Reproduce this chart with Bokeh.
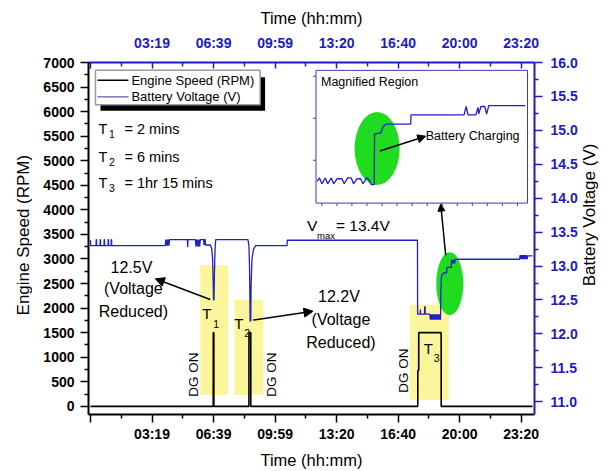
import math
from bokeh.plotting import figure
from bokeh.layouts import row
from bokeh.models import (Range1d, LinearAxis, FixedTicker, Label, Arrow, NormalHead,
                          PrintfTickFormatter)
from bokeh.embed import file_html
from bokeh.resources import INLINE

FONT = "Liberation Sans"
AXIS_BLUE = "#1c1cc0"
LINE_BLUE = "#2020c8"
GREEN = "#1fdc1f"
YELLOW = "#fbf69c"

# ---------------- data ----------------
rpm_time = [0, 399, 399.2, 401, 401.2, 515, 515.2, 521, 521.2, 1064, 1064.2, 1067, 1067.2, 1140, 1140.2, 1437]
rpm_values = [0, 0, 1500, 1500, 0, 0, 1500, 1500, 0, 0, 730, 730, 1500, 1500, 0, 0]

volt_time = [0, 0.5, 18, 18.5, 19.5, 20, 31, 31.5, 32.5, 33, 44, 44.5, 45.5, 46,
             57, 57.5, 58.5, 59, 67, 67.5, 68.5, 69,
             243, 245, 247, 249, 251, 253, 255, 257,
             315, 316, 317, 341, 343, 345, 347, 349, 351, 353, 355, 357,
             368, 369, 370, 373, 373.5, 390, 394, 397, 399, 400, 401.5, 403, 405, 407,
             512, 515, 517, 519, 521, 522, 525, 530, 537, 639, 639.5,
             1063, 1063.5, 1072, 1072.5, 1073, 1086, 1086.5, 1088, 1088.5,
             1103, 1105, 1107, 1109, 1111, 1113, 1115, 1117, 1119, 1121, 1123, 1125,
             1127, 1129, 1131, 1133, 1135, 1137, 1138,
             1139, 1141, 1145, 1148, 1158, 1158.5, 1173, 1173.5,
             1176, 1178, 1180, 1182, 1184, 1186,
             1395, 1397, 1399, 1401, 1403, 1405, 1407, 1409, 1411, 1413, 1415, 1417,
             1419, 1421, 1437]
volt_values = [13.38, 13.30, 13.30, 13.39, 13.39, 13.30, 13.30, 13.39, 13.39, 13.30, 13.30, 13.39, 13.39, 13.30,
               13.30, 13.39, 13.39, 13.30, 13.30, 13.39, 13.39, 13.30,
               13.30, 13.39, 13.30, 13.39, 13.30, 13.39, 13.30, 13.39,
               13.39, 13.28, 13.39, 13.39, 13.29, 13.39, 13.29, 13.39, 13.29, 13.39, 13.29, 13.39,
               13.39, 13.31, 13.39, 13.39, 13.31, 13.31, 13.26, 13.10, 12.75, 12.50, 12.50, 12.90, 13.25, 13.39,
               13.39, 13.30, 13.00, 12.19, 12.19, 12.70, 13.10, 13.25, 13.30, 13.30, 13.38,
               13.38, 12.29, 12.29, 12.36, 12.29, 12.29, 12.40, 12.40, 12.29,
               12.29, 12.21, 12.29, 12.21, 12.29, 12.21, 12.29, 12.21, 12.29, 12.21, 12.29, 12.21,
               12.29, 12.21, 12.29, 12.21, 12.29, 12.21, 12.22,
               12.60, 12.85, 12.88, 12.90, 12.90, 12.98, 12.98, 13.09,
               13.04, 13.09, 13.04, 13.09, 13.04, 13.10,
               13.10, 13.16, 13.10, 13.16, 13.10, 13.16, 13.10, 13.16, 13.10, 13.16, 13.10, 13.16,
               13.10, 13.15, 13.15]

# magnified region (charging after the third DG run)
inset_time = [1110.5, 1111.5, 1112.5, 1114, 1115, 1116.5, 1117.5, 1119, 1121, 1122, 1123.5, 1125,
              1126, 1127.5, 1129, 1130, 1131.5, 1132.5, 1133.5, 1134.8, 1134.9, 1137.7, 1138.5,
              1139.8, 1150.3, 1150.4, 1173, 1173.9, 1174.7, 1178, 1178.9, 1179.2, 1180.2, 1181.8,
              1182.6, 1183.5, 1199]
inset_volt = [12.25, 12.29, 12.22, 12.29, 12.22, 12.29, 12.22, 12.28, 12.28, 12.22, 12.29, 12.29,
              12.22, 12.28, 12.28, 12.22, 12.29, 12.27, 12.21, 12.21, 12.81, 12.83, 12.90,
              12.93, 12.93, 13.04, 13.04, 13.14, 13.04, 13.04, 13.13, 13.05, 13.14, 13.14,
              13.05, 13.15, 13.15]

# DG ON periods (shaded)
dg_start = [357, 468, 1038]
dg_end = [448, 562, 1165]
dg_top = [2870, 2170, 2070]
dg_bottom = [230, 230, 130]

tick_minutes = [0, 200, 400, 600, 800, 1000, 1200, 1400]
tick_labels = ["", "03:19", "06:39", "09:59", "13:20", "16:40", "20:00", "23:20"]
rpm_ticks = [0, 500, 1000, 1500, 2000, 2500, 3000, 3500, 4000, 4500, 5000, 5500, 6000, 6500, 7000]
volt_ticks = [11.0, 11.5, 12.0, 12.5, 13.0, 13.5, 14.0, 14.5, 15.0, 15.5, 16.0]

series_names = ["Engine Speed (RPM)", "Battery Voltage (V)"]

# highlight marks
charging_time = 1168
charging_volt = 12.74
inset_charging_time = 1136
inset_charging_volt = 12.64

# ---------------- layout constants ----------------
W, H = 608, 471
LW, RW = 32, 28                            # side strips holding the y titles
FL, FR, FT, FB = 88, 535, 62, 420          # frame edges in page pixels
XR = (-6.5, 1443.5)
YR = (-166, 7000)
VR = (10.812, 16.0)
IX = (1110, 1200)                          # inset data window
IY = (11.99, 13.57)
IPX = (316, 528)                           # inset box, page pixels
IPY = (205, 70)

def X(px):
    return XR[0] + (px - FL) / (FR - FL) * (XR[1] - XR[0])

def Y(py):
    return YR[1] - (py - FT) / (FB - FT) * (YR[1] - YR[0])

kx = (IX[1] - IX[0]) / (IPX[1] - IPX[0])
ky = (IY[1] - IY[0]) / (IPY[0] - IPY[1])
ix_range = Range1d(IX[0] - (IPX[0] - FL) * kx, IX[1] + (FR - IPX[1]) * kx)
iy_range = Range1d(IY[0] - (FB - IPY[0]) * ky, IY[1] + (IPY[1] - FT) * ky)

PW = W - LW - RW
p = figure(width=PW, height=H, x_range=Range1d(*XR), y_range=Range1d(*YR),
           output_backend="svg", toolbar_location=None,
           x_axis_location=None, y_axis_location=None,
           min_border_left=FL - LW, min_border_right=W - RW - FR,
           min_border_top=FT, min_border_bottom=H - FB)
p.extra_y_ranges = {"volt": Range1d(*VR), "iy": iy_range}
p.extra_x_ranges = {"ix": ix_range}
p.grid.visible = False
p.outline_line_color = None
p.background_fill_color = "white"
p.border_fill_color = "white"

# ---------------- axes ----------------
def style(ax, color, title_size="17px"):
    ax.axis_line_color = color
    ax.axis_line_width = 2
    ax.major_tick_line_color = color
    ax.minor_tick_line_color = color
    ax.major_tick_line_width = 1.5
    ax.minor_tick_line_width = 1.5
    ax.major_label_text_color = color
    ax.major_label_text_font = FONT
    ax.major_label_text_font_style = "bold"
    ax.major_label_text_font_size = "14px"
    ax.axis_label_text_font = FONT
    ax.axis_label_text_font_style = "normal"
    ax.axis_label_text_font_size = title_size
    ax.axis_label_text_color = "black"

minor_x = [(a + b) / 2 for a, b in zip(tick_minutes[:-1], tick_minutes[1:])]
overrides = {t: l for t, l in zip(tick_minutes, tick_labels)}

bottom = LinearAxis(axis_label="Time (hh:mm)",
                    ticker=FixedTicker(ticks=tick_minutes, minor_ticks=minor_x))
style(bottom, "black", "16.5px")
bottom.major_label_overrides = overrides
bottom.major_tick_out, bottom.major_tick_in = 8, 0
bottom.minor_tick_out, bottom.minor_tick_in = 4, 0
bottom.major_label_standoff = 3
bottom.axis_label_standoff = 6
p.add_layout(bottom, "below")

top = LinearAxis(axis_label="Time (hh:mm)",
                 ticker=FixedTicker(ticks=tick_minutes, minor_ticks=minor_x))
style(top, AXIS_BLUE, "16.5px")
top.major_label_overrides = overrides
top.major_tick_out, top.major_tick_in = 0, 6
top.minor_tick_out, top.minor_tick_in = 0, 4
top.major_label_standoff = 12
top.axis_label_standoff = 5
p.add_layout(top, "above")

minor_rpm = [(a + b) / 2 for a, b in zip(rpm_ticks[:-1], rpm_ticks[1:])]
left = LinearAxis(ticker=FixedTicker(ticks=rpm_ticks, minor_ticks=minor_rpm))
style(left, "black")
left.major_tick_out, left.major_tick_in = 8, 0
left.minor_tick_out, left.minor_tick_in = 4, 0
left.major_label_standoff = 6
p.add_layout(left, "left")

minor_v = [(a + b) / 2 for a, b in zip(volt_ticks[:-1], volt_ticks[1:])]
right = LinearAxis(y_range_name="volt",
                   ticker=FixedTicker(ticks=volt_ticks, minor_ticks=minor_v),
                   formatter=PrintfTickFormatter(format="%.1f"))
style(right, AXIS_BLUE)
right.major_tick_out, right.major_tick_in = 8, 0
right.minor_tick_out, right.minor_tick_in = 4, 0
right.major_label_standoff = 8
p.add_layout(right, "right")

# ---------------- marks ----------------
p.quad(left=dg_start, right=dg_end, top=dg_top, bottom=dg_bottom,
       fill_color=YELLOW, line_color=None)

p.ellipse(x=[charging_time], y=[charging_volt], width=27, height=63,
          width_units="screen", height_units="screen",
          fill_color=GREEN, line_color=None, y_range_name="volt")

r_rpm = p.line(rpm_time, rpm_values, line_color="black", line_width=1.6)
r_volt = p.line(volt_time, volt_values, line_color=LINE_BLUE, line_width=1.3,
                y_range_name="volt")

# inset
p.quad(left=[IX[0]], right=[IX[1]], bottom=[IY[0]], top=[IY[1]],
       fill_color="white", line_color="#3a3ac0", line_width=1,
       x_range_name="ix", y_range_name="iy")
inset_xticks = [IX[0] + 2.5 + 6.4 * i for i in range(14)]
p.segment(x0=inset_xticks, x1=inset_xticks, y0=[IY[0]] * 14, y1=[IY[0] - 3 * ky] * 14,
          line_color="#3a3ac0", line_width=1, x_range_name="ix", y_range_name="iy")
inset_yticks = [12.5, 13.0, 13.5]
p.segment(x0=[IX[0]] * 3, x1=[IX[0] - 3 * kx] * 3, y0=inset_yticks, y1=inset_yticks,
          line_color="#3a3ac0", line_width=1, x_range_name="ix", y_range_name="iy")
p.ellipse(x=[inset_charging_time], y=[inset_charging_volt], width=45, height=73,
          width_units="screen", height_units="screen",
          fill_color=GREEN, line_color=None, x_range_name="ix", y_range_name="iy")
p.line(inset_time, inset_volt, line_color=LINE_BLUE, line_width=1.3,
       x_range_name="ix", y_range_name="iy")

# legend (box with drop shadow)
p.quad(left=[X(100)], right=[X(265)], top=[Y(77)], bottom=[Y(111)],
       fill_color="black", line_color=None)
p.quad(left=[X(95)], right=[X(260)], top=[Y(70)], bottom=[Y(105)],
       fill_color="white", line_color="#9a9a9a", line_width=1.5)
p.segment(x0=[X(97)], x1=[X(128)], y0=[Y(80)], y1=[Y(80)], line_color="black", line_width=1.6)
p.segment(x0=[X(97)], x1=[X(128)], y0=[Y(97)], y1=[Y(97)], line_color="#5a5ab4", line_width=1.3)

# ---------------- texts ----------------
def txt(text, px, py, size, align="left", angle=0, color="black"):
    p.add_layout(Label(x=X(px), y=Y(py), text=text, text_font=FONT,
                       text_font_size=f"{size}px", text_align=align,
                       text_baseline="middle", angle=angle, text_color=color))

txt(series_names[0], 131, 80, 13)
txt(series_names[1], 131, 97, 13)

for i, (py, rest) in enumerate([(130, "= 2 mins"), (158, "= 6 mins"), (185, "= 1hr 15 mins")]):
    txt("T", 98, py, 14.5)
    txt(str(i + 1), 108.5, py + 5, 10.5)
    txt(rest, 124, py, 14.5)

txt("Magnified Region", 321, 82, 12.5)
txt("Battery Charging", 426, 137, 12.5)

txt("12.5V", 131, 270, 16, "center")
txt("(Voltage", 133, 292, 16, "center")
txt("Reduced)", 133, 315, 16, "center")
txt("12.2V", 339, 300, 16, "center")
txt("(Voltage", 341, 323, 16, "center")
txt("Reduced)", 341, 347, 16, "center")

txt("V", 307, 228, 15.5)
txt("max", 317, 238, 9.5)
txt("= 13.4V", 336, 228, 15.5)

txt("T", 202, 317, 15)
txt("1", 213, 328, 10.5)
txt("T", 234, 327, 15)
txt("2", 244, 337, 10.5)
txt("T", 424, 353, 15)
txt("3", 434, 363, 10.5)

txt("DG ON", 193, 402, 13.5, angle=math.pi / 2)
txt("DG ON", 271, 402, 13.5, angle=math.pi / 2)
txt("DG ON", 404, 398, 13.5, angle=math.pi / 2)

def arrow(x0, y0, x1, y1, size=9):
    p.add_layout(Arrow(end=NormalHead(size=size, fill_color="black", line_color="black"),
                       x_start=X(x0), y_start=Y(y0), x_end=X(x1), y_end=Y(y1),
                       line_color="black", line_width=1.5))

arrow(210, 303, 155, 282)
arrow(253, 324, 313, 315)
arrow(380, 152, 426, 137, 8)
arrow(446, 258, 441, 206, 7)

# ---------------- side strips with the vertical axis titles ----------------
def strip(width, text, cx, cy):
    s = figure(width=width, height=H, x_range=Range1d(0, width), y_range=Range1d(0, H),
               output_backend="svg", toolbar_location=None,
               x_axis_location=None, y_axis_location=None, min_border=0)
    s.grid.visible = False
    s.outline_line_color = None
    s.border_fill_color = "white"
    s.add_layout(Label(x=cx, y=H - cy, text=text, text_font=FONT, text_font_size="17px",
                       text_color="black", text_align="center", text_baseline="middle",
                       angle=math.pi / 2))
    return s

left_strip = strip(LW, "Engine Speed (RPM)", 23, 231)
right_strip = strip(RW, "Battery Voltage (V)", 589 - (W - RW), 204)

layout = row(left_strip, p, right_strip, spacing=0)
open("out.html", "w").write(file_html(layout, INLINE))
